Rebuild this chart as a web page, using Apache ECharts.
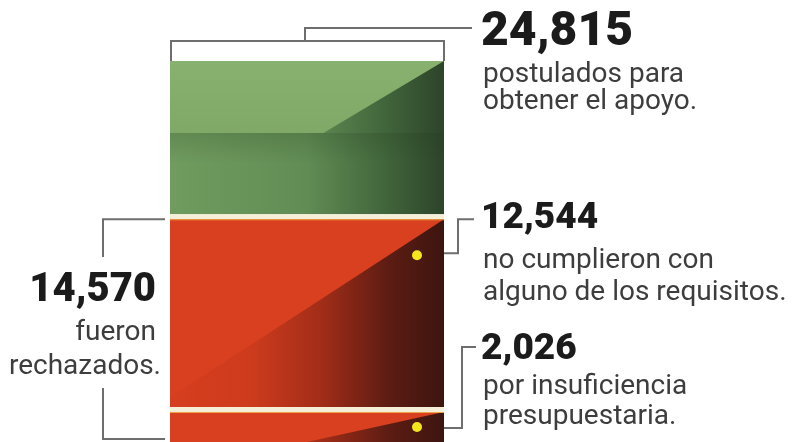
<!DOCTYPE html>
<html>
<head>
<meta charset="utf-8">
<script src="https://cdn.jsdelivr.net/npm/echarts@6/dist/echarts.min.js"></script>
<style>
  html, body { margin: 0; padding: 0; background: #fff; }
  #main { width: 792px; height: 442px; }
</style>
</head>
<body>
<div id="main"></div>
<script>
const categories = ['Postulados'];
const segmentNames = ['Aceptados', 'No cumplieron con alguno de los requisitos', 'Por insuficiencia presupuestaria'];
const segmentValues = [10245, 12544, 2026];
const totalApplicants = 24815;
const totalRejected = 14570;

// etiquetas
const totalLabel = ['24,815', 'postulados para', 'obtener el apoyo.'];
const rejectedLabel = ['14,570', 'fueron', 'rechazados.'];
const requisitosLabel = ['12,544', 'no cumplieron con', 'alguno de los requisitos.'];
const presupuestoLabel = ['2,026', 'por insuficiencia', 'presupuestaria.'];

const barLeft = 170, barRight = 444;
const LG = echarts.graphic.LinearGradient;

// inicio y fin acumulado de cada tramo
let acc = 0;
const segData = segmentValues.map(function (v, i) {
  const item = { name: segmentNames[i], value: [0, acc, acc + v, i] };
  acc += v;
  return item;
});

function renderSegment(params, api) {
  const idx = api.value(3);
  const a = api.coord([0, api.value(1)]);
  const b = api.coord([0, api.value(2)]);
  const w = api.size([1, 0])[0];
  const left = a[0] - w / 2, right = left + w;
  const last = segmentValues.length - 1;
  const y0 = a[1] + (idx > 0 ? 1 : 0);
  const y1 = b[1] - (idx < last ? 4 : 0);
  const h = y1 - y0;
  const kids = [];

  if (idx === 0) {
    // verde: base que oscurece a la derecha + zona clara arriba
    const knee = y0 + h * 0.47;
    kids.push({ type: 'rect', shape: { x: left, y: y0, width: w, height: h },
      style: { fill: new LG(0, 0, 1, 0, [
        { offset: 0, color: '#719c5f' }, { offset: 0.5, color: '#618c54' },
        { offset: 0.78, color: '#42663c' }, { offset: 1, color: '#2c4429' }]) } });
    // banda algo mas oscura bajo el quiebre
    kids.push({ type: 'rect', shape: { x: left, y: knee, width: w, height: 30 },
      style: { fill: new LG(0, 0, 0, 1, [
        { offset: 0, color: 'rgba(30,55,25,0.18)' }, { offset: 1, color: 'rgba(30,55,25,0)' }]) } });
    kids.push({ type: 'polygon', shape: { points: [
        [left, y0], [right, y0], [left + w * 0.56, knee], [left, knee]] },
      style: { fill: new LG(0, 0, 0, 1, [
        { offset: 0, color: '#88b06e' }, { offset: 1, color: '#80a867' }]) } });
  } else {
    // rojo: base que oscurece a la derecha + triangulo claro
    kids.push({ type: 'rect', shape: { x: left, y: y0 - 5, width: w, height: 5 },
      style: { fill: '#f6efd8' } });
    kids.push({ type: 'rect', shape: { x: left, y: y0, width: w, height: h },
      style: { fill: new LG(0, 0, 1, 0, [
        { offset: 0, color: '#d63e1f' }, { offset: 0.3, color: '#cd3b1d' },
        { offset: 0.55, color: '#a22d18' }, { offset: 0.8, color: '#5c1c13' },
        { offset: 1, color: '#3c150f' }]) } });
    const pts = idx === 1
      ? [[left, y0], [right, y0], [left, y0 + h * 0.95]]
      : [[left, y0], [right, y0], [left + w * 0.5, y1], [left, y1]];
    kids.push({ type: 'polygon', shape: { points: pts }, style: { fill: '#d8401f' } });
    kids.push({ type: 'rect', shape: { x: left, y: y0, width: w, height: 1 },
      style: { fill: '#eea446' } });
    kids.push({ type: 'circle',
      shape: { cx: right - 27, cy: Math.min(y0 + 36, (y0 + y1) / 2), r: 5 },
      style: { fill: '#f5e51c' } });
  }
  return { type: 'group', children: kids };
}

const chart = echarts.init(document.getElementById('main'));
chart.setOption({
  animation: false,
  grid: { left: barLeft, right: 792 - barRight, top: 61, bottom: 0 },
  xAxis: { type: 'category', data: categories, show: false },
  yAxis: { type: 'value', min: 0, max: totalApplicants, inverse: true, show: false },
  series: [{ type: 'custom', renderItem: renderSegment, data: segData, clip: false }]
});

// posiciones de las llaves a partir de la escala
const yAt = function (v) { return chart.convertToPixel({ yAxisIndex: 0 }, v); };
const barTop = yAt(0);
const redTop = yAt(segmentValues[0]);
const smallTop = yAt(segmentValues[0] + segmentValues[1]);
const barBottom = yAt(totalApplicants);

const lineStyle = { stroke: '#6e6e6e', lineWidth: 2, fill: 'none' };
function line(points) { return { type: 'polyline', shape: { points: points }, style: lineStyle }; }
function txt(s, x, y, font, color, align) {
  return { type: 'text', x: x, y: y, style: { text: s, font: font, fill: color,
    align: align, textAlign: align, verticalAlign: 'middle', textVerticalAlign: 'middle' } };
}

const numFont = '900 48px Roboto';
const midFont = '900 37px Roboto';
const smallFont = '28px Roboto';
const dark = '#1b1b1b', grey = '#3d3d3d';

chart.setOption({
  graphic: [
    // llave superior (total)
    line([[barLeft + 1, barTop], [barLeft + 1, barTop - 20], [barRight, barTop - 20], [barRight, barTop]]),
    line([[305, barTop - 20], [305, barTop - 33], [472, barTop - 33]]),
    // 12,544
    line([[barRight, redTop + 35], [458, redTop + 35], [458, redTop + 1], [474, redTop + 1]]),
    // 2,026
    line([[barRight, smallTop + 17], [462, smallTop + 17], [462, 347], [476, 347]]),
    // llave izquierda (rechazados)
    line([[165, redTop + 1], [103, redTop + 1], [103, 257]]),
    line([[103, 388], [103, barBottom - 3], [165, barBottom - 3]]),

    txt(totalLabel[0], 481, 33, numFont, dark, 'left'),
    txt(totalLabel[1], 483, 75, smallFont, grey, 'left'),
    txt(totalLabel[2], 483, 102, smallFont, grey, 'left'),

    txt(requisitosLabel[0], 481, 219, midFont, dark, 'left'),
    txt(requisitosLabel[1], 483, 261, smallFont, grey, 'left'),
    txt(requisitosLabel[2], 483, 293, smallFont, grey, 'left'),

    txt(presupuestoLabel[0], 481, 350, midFont, dark, 'left'),
    txt(presupuestoLabel[1], 483, 387, smallFont, grey, 'left'),
    txt(presupuestoLabel[2], 483, 417, smallFont, grey, 'left'),

    txt(rejectedLabel[0], 156, 291, '900 40px Roboto', dark, 'right'),
    txt(rejectedLabel[1], 156, 333, smallFont, grey, 'right'),
    txt(rejectedLabel[2], 161, 367, smallFont, grey, 'right')
  ]
});
</script>
</body>
</html>
